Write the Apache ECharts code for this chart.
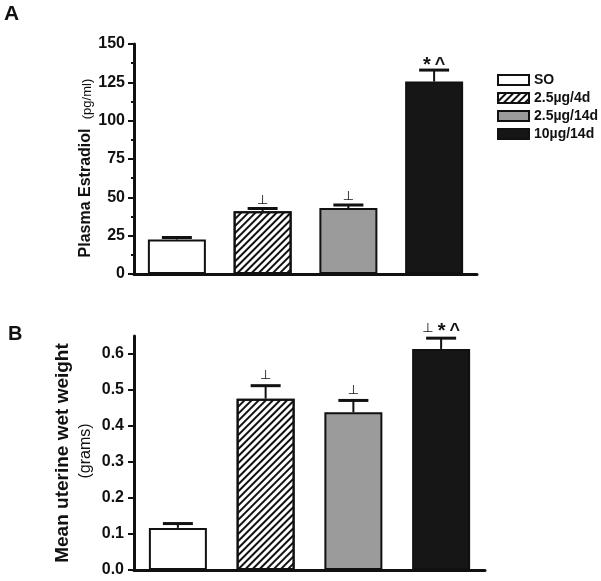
<!DOCTYPE html>
<html><head><meta charset="utf-8">
<script src="https://cdn.jsdelivr.net/npm/echarts@6/dist/echarts.min.js"></script>
<style>html,body{margin:0;padding:0;background:#fff}#c{width:601px;height:581px}</style>
</head><body><div id="c"></div>
<script>
// ---- data ----
const categories = ['SO', '2.5µg/4d', '2.5µg/14d', '10µg/14d'];
const estradiolMean = [22.5, 41, 43, 125.5];
const estradiolErr = [1.3, 1.7, 2, 7.5];
const estradiolMarks = ['', '⊥', '⊥', '*^'];
const weightMean = [0.117, 0.476, 0.438, 0.614];
const weightErr = [0.012, 0.036, 0.033, 0.03];
const weightMarks = ['', '⊥', '⊥', '⊥*^'];
const estradiolTicks = [0, 25, 50, 75, 100, 125, 150];
const weightTicks = [0, 0.1, 0.2, 0.3, 0.4, 0.5, 0.6];
const panelLabels = ['A', 'B'];
const estradiolTitle = 'Plasma Estradiol';
const estradiolUnit = '(pg/ml)';
const weightTitle = 'Mean uterine wet weight';
const weightUnit = '(grams)';

// ---- styles ----
const FF = '"Liberation Sans", Arial, sans-serif';
const INK = '#111';
const fills = ['#ffffff', '#ffffff', '#9b9b9b', '#161616'];
const hatch = {
  symbol: 'rect', symbolSize: 1,
  dashArrayX: [1, 0], dashArrayY: [1.3, 2.3],
  rotation: -Math.PI / 4, color: '#111'
};

function barSeries(means, axisIdx) {
  return categories.map((name, i) => ({
    type: 'bar', name: name,
    xAxisIndex: axisIdx, yAxisIndex: axisIdx,
    barWidth: 58, barGap: '-100%',
    data: means.map((v, j) => (j === i ? v : '-')),
    itemStyle: Object.assign({ color: fills[i], borderColor: INK, borderWidth: 2 },
      i === 1 ? { decal: hatch } : {}),
    silent: true
  }));
}

function markRich(str) {
  const map = { '⊥': 'p', '*': 's', '^': 'c' };
  return str.split('').map(ch => '{' + (map[ch] || 'p') + '|' + ch + '}').join('');
}
const markRichStyles = {
  p: { fontFamily: '"DejaVu Sans"', fontSize: 13, fontWeight: 'normal', fill: INK, lineHeight: 10, padding: [7, 2, 3, 2] },
  s: { fontFamily: FF, fontSize: 20, fontWeight: 'bold', fill: INK, lineHeight: 10, padding: [10, 2, 0, 2] },
  c: { fontFamily: FF, fontSize: 18, fontWeight: 'bold', fill: INK, lineHeight: 10, padding: [10, 2, 0, 2] }
};

function errSeries(means, errs, marks, axisIdx, lift) {
  return {
    type: 'custom', xAxisIndex: axisIdx, yAxisIndex: axisIdx, z: 10, silent: true,
    data: means.map((m, i) => [i, m, errs[i]]),
    encode: { x: 0, y: 1 },
    renderItem: function (params, api) {
      const i = api.value(0), m = api.value(1), e = api.value(2);
      const p0 = api.coord([i, m]);
      const p1 = api.coord([i, m + e]);
      const children = [
        { type: 'line', shape: { x1: p0[0], y1: p0[1], x2: p1[0], y2: p1[1] }, style: { stroke: INK, lineWidth: 2 } },
        { type: 'line', shape: { x1: p1[0] - 15, y1: p1[1], x2: p1[0] + 15, y2: p1[1] }, style: { stroke: INK, lineWidth: 3 } }
      ];
      const mk = marks[params.dataIndex];
      if (mk) {
        children.push({
          type: 'text', x: p1[0], y: p1[1] - lift,
          style: { text: markRich(mk), rich: markRichStyles, align: 'center', verticalAlign: 'bottom' }
        });
      }
      return { type: 'group', children: children };
    }
  };
}

const yBase = {
  type: 'value', min: 0, splitLine: { show: false },
  axisLine: { show: true, lineStyle: { color: INK, width: 3 } },
  axisTick: { show: true, length: 6, lineStyle: { color: INK, width: 2 } },
  axisLabel: { fontFamily: FF, fontSize: 16, fontWeight: 'bold', color: INK, margin: 9 }
};
const xBase = {
  type: 'category', data: categories,
  axisLine: { show: true, onZero: false, lineStyle: { color: INK, width: 3 } },
  axisTick: { show: false }, axisLabel: { show: false }
};

const chart = echarts.init(document.getElementById('c'), null, { renderer: 'canvas' });
chart.setOption({
  animation: false,
  backgroundColor: '#fff',
  grid: [
    { left: 134, right: 124, top: 44, bottom: 307 },
    { left: 134, right: 116, top: 336, bottom: 11 }
  ],
  xAxis: [Object.assign({ gridIndex: 0 }, xBase), Object.assign({ gridIndex: 1 }, xBase)],
  yAxis: [
    Object.assign({}, yBase, {
      gridIndex: 0, max: 150, interval: 25,
      minorTick: { show: true, splitNumber: 2, length: 3, lineStyle: { color: INK, width: 2 } },
      axisTick: Object.assign({}, yBase.axisTick, { customValues: estradiolTicks }),
      axisLabel: Object.assign({}, yBase.axisLabel, { customValues: estradiolTicks })
    }),
    Object.assign({}, yBase, {
      gridIndex: 1, max: 0.65, interval: 0.1,
      axisTick: Object.assign({}, yBase.axisTick, { customValues: weightTicks }),
      axisLabel: Object.assign({}, yBase.axisLabel, { margin: 10, customValues: weightTicks, formatter: v => Number(v).toFixed(1) })
    })
  ],
  legend: {
    data: categories, orient: 'vertical', left: 492, top: 68,
    itemWidth: 31, itemHeight: 10, itemGap: 4, icon: 'rect', selectedMode: false,
    textStyle: { fontFamily: FF, fontSize: 14, fontWeight: 'bold', color: INK, lineHeight: 14 }
  },
  graphic: [
    { type: 'text', x: 4, y: 14, style: { text: panelLabels[0], font: 'bold 21px ' + FF, fill: INK, align: 'left', verticalAlign: 'middle' } },
    { type: 'text', x: 8, y: 334, style: { text: panelLabels[1], font: 'bold 20px ' + FF, fill: INK, align: 'left', verticalAlign: 'middle' } },
    { type: 'text', x: 86, y: 193, rotation: Math.PI / 2, style: { text: estradiolTitle, font: 'bold 16px ' + FF, fill: INK, align: 'center', verticalAlign: 'middle' } },
    { type: 'text', x: 87, y: 99, rotation: Math.PI / 2, style: { text: estradiolUnit, font: '13px ' + FF, fill: INK, align: 'center', verticalAlign: 'middle' } },
    { type: 'text', x: 63, y: 453, rotation: Math.PI / 2, style: { text: weightTitle, font: 'bold 19px ' + FF, fill: INK, align: 'center', verticalAlign: 'middle' } },
    { type: 'text', x: 86, y: 451, rotation: Math.PI / 2, style: { text: weightUnit, font: '16px ' + FF, fill: INK, align: 'center', verticalAlign: 'middle' } }
  ],
  series: [].concat(
    barSeries(estradiolMean, 0),
    barSeries(weightMean, 1),
    [errSeries(estradiolMean, estradiolErr, estradiolMarks, 0, 5),
     errSeries(weightMean, weightErr, weightMarks, 1, 7)]
  )
});
</script>
</body></html>
